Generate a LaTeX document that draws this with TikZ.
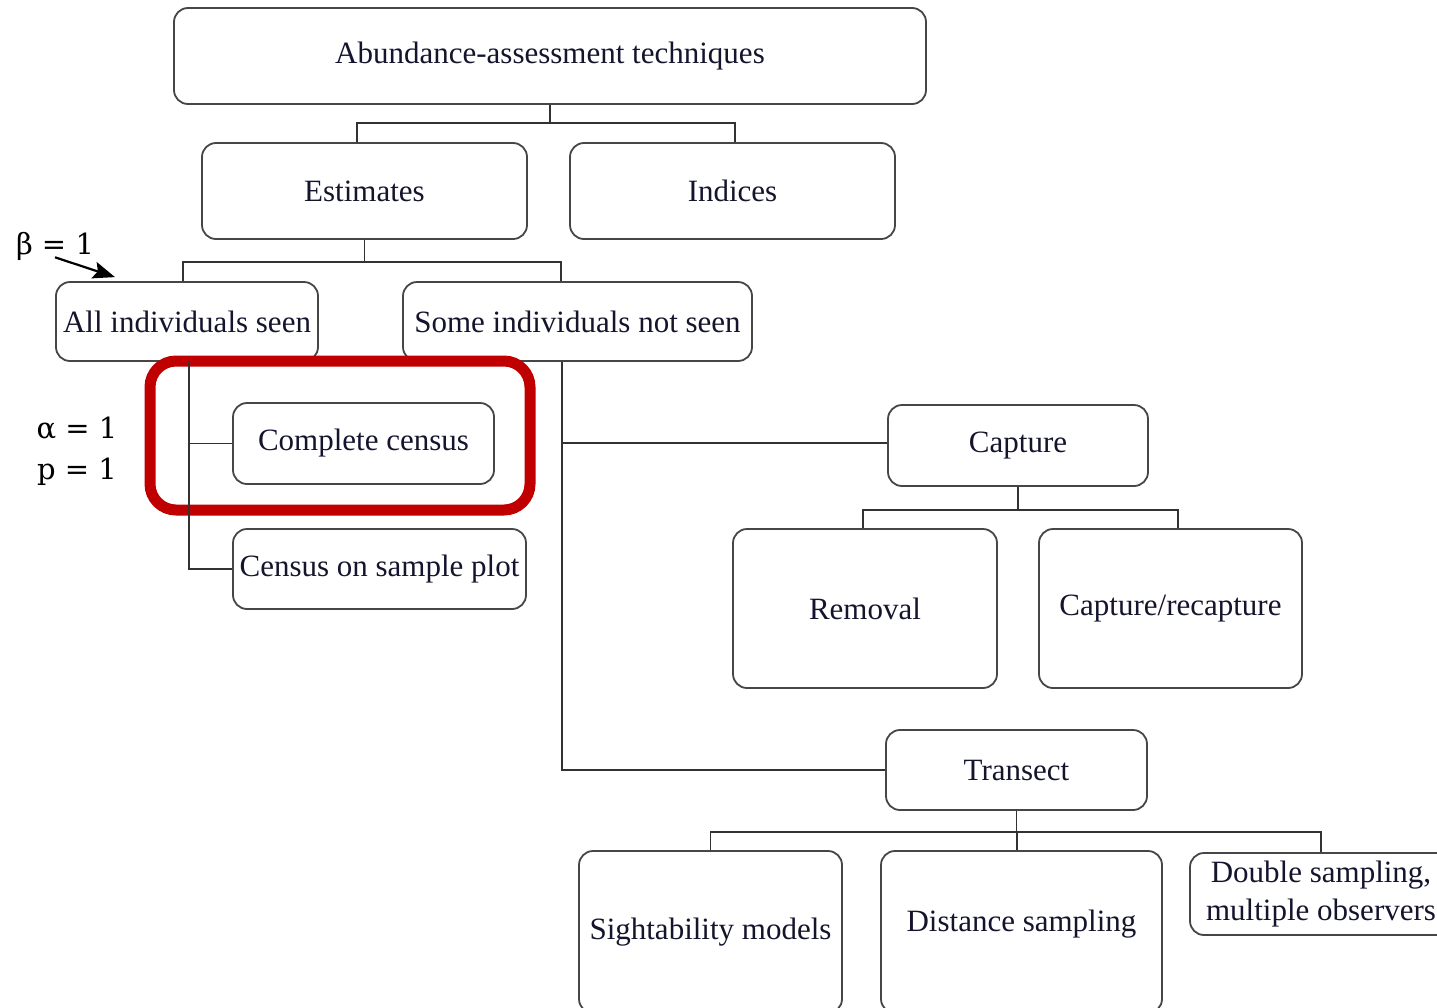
\documentclass[tikz,border=0pt]{standalone}
\usepackage{fontspec}
\setmainfont{Liberation Serif}
\newfontfamily\greekfont{DejaVu Serif}
\usetikzlibrary{arrows.meta}
\definecolor{hlred}{RGB}{192,0,0}
\definecolor{boxline}{RGB}{70,70,70}
\definecolor{conline}{RGB}{50,50,50}
\definecolor{txt}{RGB}{20,20,45}
\tikzset{
  box/.style={draw=boxline, line width=1.8pt, rounded corners=14pt, inner sep=0pt,
    align=center, font=\fontsize{31}{38}\selectfont, text=txt},
  btext/.style={inner sep=0pt, align=center, font=\fontsize{31}{38}\selectfont, text=txt},
  con/.style={draw=conline, line width=1.4pt},
  lbl/.style={inner sep=0pt, font=\greekfont\fontsize{29}{34}\selectfont},
}
\begin{document}
\begin{tikzpicture}[x=1pt,y=-1pt]
\useasboundingbox (0,0) rectangle (1437,1007);
\clip (0,0) rectangle (1437,1007);
% nodes
\node[box, minimum width=752, minimum height=96] (top) at (550,56) {Abundance-assessment techniques};
\node[box, minimum width=325, minimum height=96] (est) at (364.5,191) {Estimates};
\node[box, minimum width=325, minimum height=96] (ind) at (732.5,191) {Indices};
\node[box, minimum width=262, minimum height=79] (all) at (187,321.5) {All individuals seen};
\node[box, minimum width=349, minimum height=79] (some) at (577.5,321.5) {Some individuals not seen};
\node[box, minimum width=261, minimum height=81] (cc) at (363.5,443.5) {Complete census};
\node[box, minimum width=293, minimum height=80] (csp) at (379.5,569) {Census on sample plot};
\node[box, minimum width=260, minimum height=81] (cap) at (1018,445.5) {Capture};
\node[box, minimum width=264, minimum height=159] (rem) at (865,608.5) {Removal};
\node[box, minimum width=263, minimum height=159] (cr) at (1170.5,608.5) {Capture/recapture};
\node[box, minimum width=261, minimum height=80] (tr) at (1016.5,770) {Transect};
\node[box, minimum width=263, minimum height=162] (sm) at (710.5,932) {Sightability models};
\node[box, minimum width=281, minimum height=162] (dist) at (1021.5,932) {};
\node[btext] (disttext) at (1021.5,924) {Distance sampling};
\node[box, minimum width=262, minimum height=82] (ds) at (1321,894) {Double sampling,\\multiple observers};
% highlight
\node[draw=hlred, line width=11pt, rounded corners=26pt, minimum width=380, minimum height=149, inner sep=0pt] (hl) at (340,435.5) {};
% labels
\node[lbl] (beta) at (55,246) {β = 1};
\node[lbl] (alpha) at (77,428) {α = 1};
\node[lbl] (pp) at (77,472) {p = 1};
% connectors
\draw[con] (top.south) -- ++(0,18) coordinate (j1);
\draw[con] ([xshift=-7.5pt]est.north) |- (j1) -| ([xshift=2.5pt]ind.north);
\draw[con] (est.south) -- ++(0,22) coordinate (j2);
\draw[con] ([xshift=-4pt]all.north) |- (j2) -| ([xshift=-16.5pt]some.north);
\draw[con] ([xshift=2pt]all.south) |- (cc.west);
\draw[con] ([xshift=2pt]all.south) |- (csp.west);
\draw[con] ([xshift=-15.5pt]some.south) |- ([yshift=2.5pt]cap.west);
\draw[con] ([xshift=-15.5pt]some.south) |- (tr.west);
\draw[con] (cap.south) -- ++(0,23) coordinate (j3);
\draw[con] ([xshift=-2pt]rem.north) |- (j3) -| ([xshift=7.5pt]cr.north);
\draw[con] (tr.south) -- ++(0,21) coordinate (j4);
\draw[con] (sm.north) |- (j4) -| ([xshift=-4.5pt]dist.north);
\draw[con] (j4) -| (ds.north);
\draw[line width=2.2pt, -{Stealth[length=22pt,width=17pt,inset=4pt]}] ([yshift=3pt]beta.south) -- ([xshift=-72pt,yshift=4pt]all.north);
\end{tikzpicture}
\end{document}
